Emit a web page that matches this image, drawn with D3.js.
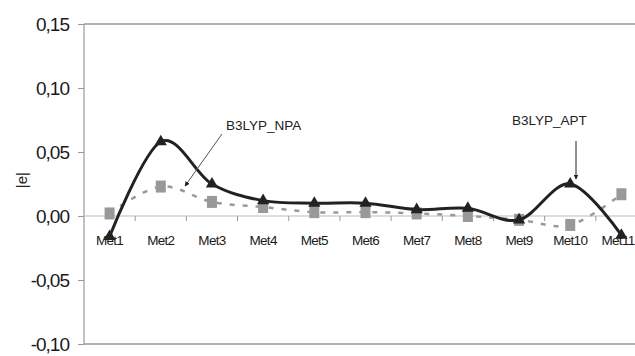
<!DOCTYPE html>
<html>
<head>
<meta charset="utf-8">
<script src="https://cdn.jsdelivr.net/npm/d3@7"></script>
<style>
  body { margin: 0; background: #fff; }
  .svg-frame { width: 635px; height: 356px; overflow: hidden; }
  text { font-family: Arial, "Liberation Sans", sans-serif; }
</style>
</head>
<body>
<div class="svg-frame"></div>
<script>
const categories = ["Met1", "Met2", "Met3", "Met4", "Met5", "Met6", "Met7", "Met8", "Met9", "Met10", "Met11"]
const aptValues = [-0.016, 0.058, 0.025, 0.012, 0.010, 0.010, 0.005, 0.006, -0.003, 0.025, -0.015]
const npaValues = [0.002, 0.023, 0.011, 0.007, 0.003, 0.003, 0.002, 0.000, -0.003, -0.007, 0.017]
const yTicks = [0.15, 0.10, 0.05, 0.00, -0.05, -0.10]

function drawViz() {
  const frameWidth = 635
  const frameHeight = 356
  const svg = d3.select(".svg-frame")
    .append("svg")
    .attr("width", frameWidth)
    .attr("height", frameHeight)

  const margin = { top: 24, left: 84, bottom: 12 }
  const plotRight = 647

  const xScale = d3.scalePoint(categories, [margin.left, plotRight]).padding(0.5)
  const yScale = d3.scaleLinear([-0.10, 0.15], [frameHeight - margin.bottom, margin.top])
  const step = xScale.step()

  // frame
  svg.append("line")
    .attr("x1", margin.left).attr("x2", frameWidth)
    .attr("y1", yScale(0.15)).attr("y2", yScale(0.15))
    .attr("stroke", "#999").attr("stroke-width", 1.5)
  svg.append("line")
    .attr("x1", margin.left).attr("x2", frameWidth)
    .attr("y1", yScale(-0.10)).attr("y2", yScale(-0.10))
    .attr("stroke", "#999").attr("stroke-width", 1.5)
  svg.append("line")
    .attr("x1", margin.left).attr("x2", margin.left)
    .attr("y1", yScale(0.15)).attr("y2", yScale(-0.10))
    .attr("stroke", "#999").attr("stroke-width", 1.2)

  // y axis
  const yAxis = svg.append("g")
    .attr("transform", `translate(${margin.left},0)`)
    .call(d3.axisLeft(yScale).tickValues(yTicks).tickSize(6).tickPadding(9)
      .tickFormat(d => d3.format(".2f")(d).replace(".", ",").replace("\u2212", "-")))
  yAxis.select(".domain").remove()
  yAxis.selectAll(".tick line").attr("stroke", "#999")
  yAxis.selectAll(".tick text")
    .attr("font-size", 19)
    .attr("fill", "#1a1a1a")
    .attr("letter-spacing", -1)

  // zero line with category ticks
  svg.append("line")
    .attr("x1", margin.left).attr("x2", frameWidth)
    .attr("y1", yScale(0)).attr("y2", yScale(0))
    .attr("stroke", "#bbb").attr("stroke-width", 1.2)
  svg.selectAll("line.cat-tick")
    .data(categories.slice(1))
    .join("line")
      .attr("class", "cat-tick")
      .attr("x1", d => xScale(d) - step / 2).attr("x2", d => xScale(d) - step / 2)
      .attr("y1", yScale(0)).attr("y2", yScale(0) + 5)
      .attr("stroke", "#999")
  svg.selectAll("text.cat")
    .data(categories)
    .join("text")
      .attr("class", "cat")
      .attr("x", d => Math.min(xScale(d), frameWidth - 17))
      .attr("y", yScale(0) + 29)
      .attr("text-anchor", "middle")
      .attr("font-size", 13.5)
      .attr("letter-spacing", -0.7)
      .attr("fill", "#1a1a1a")
      .text(d => d)

  // y label
  svg.append("text")
    .attr("transform", `translate(27,${yScale(0.028)}) rotate(-90)`)
    .attr("text-anchor", "middle")
    .attr("font-size", 15)
    .attr("fill", "#222")
    .text("|e|")

  const curve = d3.curveCatmullRom.alpha(0)

  // NPA series
  const npaLine = d3.line()
    .x((d, i) => xScale(categories[i]))
    .y(d => yScale(d))
    .curve(curve)
  svg.append("path")
    .datum(npaValues)
    .attr("d", npaLine)
    .attr("fill", "none")
    .attr("stroke", "#999")
    .attr("stroke-width", 2.5)
    .attr("stroke-dasharray", "5,8")
  svg.selectAll("rect.npa")
    .data(npaValues)
    .join("rect")
      .attr("class", "npa")
      .attr("x", (d, i) => xScale(categories[i]) - 5)
      .attr("y", d => yScale(d) - 6)
      .attr("width", 10)
      .attr("height", 12)
      .attr("fill", "#999")

  // APT series
  const aptLine = d3.line()
    .x((d, i) => xScale(categories[i]))
    .y(d => yScale(d))
    .curve(curve)
  svg.append("path")
    .datum(aptValues)
    .attr("d", aptLine)
    .attr("fill", "none")
    .attr("stroke", "#222")
    .attr("stroke-width", 3)
  svg.selectAll("path.apt")
    .data(aptValues)
    .join("path")
      .attr("class", "apt")
      .attr("transform", (d, i) => `translate(${xScale(categories[i])},${yScale(d)})`)
      .attr("d", d3.symbol(d3.symbolTriangle, 65))
      .attr("fill", "#222")

  // annotations
  svg.append("defs").append("marker")
    .attr("id", "arrow")
    .attr("viewBox", "0 0 10 10")
    .attr("refX", 9).attr("refY", 5)
    .attr("markerWidth", 5).attr("markerHeight", 5)
    .attr("orient", "auto")
    .append("path")
      .attr("d", "M0,0L10,5L0,10z")
      .attr("fill", "#222")

  svg.append("text")
    .attr("x", 226).attr("y", 130)
    .attr("font-size", 13.5)
    .attr("fill", "#222")
    .text("B3LYP_NPA")
  svg.append("line")
    .attr("x1", 222).attr("y1", 134)
    .attr("x2", 185).attr("y2", 186)
    .attr("stroke", "#555").attr("stroke-width", 1)
    .attr("marker-end", "url(#arrow)")

  svg.append("text")
    .attr("x", 512).attr("y", 125)
    .attr("font-size", 13.5)
    .attr("fill", "#222")
    .text("B3LYP_APT")
  svg.append("line")
    .attr("x1", 576).attr("y1", 141)
    .attr("x2", 576).attr("y2", 179)
    .attr("stroke", "#222").attr("stroke-width", 1)
    .attr("marker-end", "url(#arrow)")
}

drawViz()
</script>
</body>
</html>
